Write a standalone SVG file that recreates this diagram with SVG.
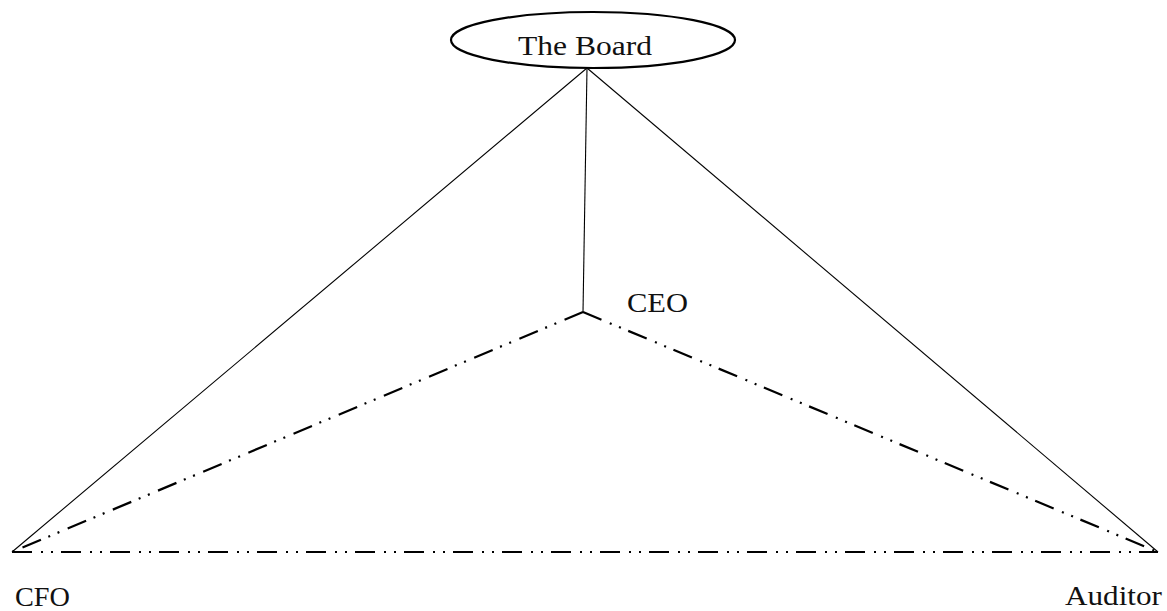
<svg xmlns="http://www.w3.org/2000/svg" width="1167" height="611" viewBox="0 0 1167 611">
<style>
.lbl{font-family:"Liberation Serif","Times New Roman",serif;font-size:27px;fill:#111}
.solid{stroke:#000;stroke-width:1.1;fill:none}
.dd{stroke:#000;stroke-width:2.2;fill:none;stroke-dasharray:20 9 2 8 2 8}
</style>
<rect width="1167" height="611" fill="#fff"/>
<g id="connectors">
<line class="solid" x1="587" y1="68" x2="12" y2="552"/>
<line class="solid" x1="587" y1="68" x2="1158" y2="552"/>
<line class="solid" x1="587" y1="68" x2="583" y2="312"/>
<line class="dd" x1="583" y1="312" x2="12" y2="552"/>
<line class="dd" x1="583" y1="312" x2="1158" y2="552"/>
<line class="dd" x1="12" y1="552" x2="1158" y2="552"/>
</g>
<g id="board">
<ellipse cx="593" cy="40" rx="142" ry="28" fill="#fff" stroke="#000" stroke-width="2.2"/>
<text class="lbl" x="518" y="55" textLength="134" lengthAdjust="spacingAndGlyphs">The Board</text>
</g>
<g id="ceo">
<text class="lbl" x="627" y="312" textLength="61" lengthAdjust="spacingAndGlyphs">CEO</text>
</g>
<g id="cfo">
<text class="lbl" x="15" y="606" textLength="55" lengthAdjust="spacingAndGlyphs">CFO</text>
</g>
<g id="auditor">
<text class="lbl" x="1065" y="605" textLength="97" lengthAdjust="spacingAndGlyphs">Auditor</text>
</g>
</svg>
